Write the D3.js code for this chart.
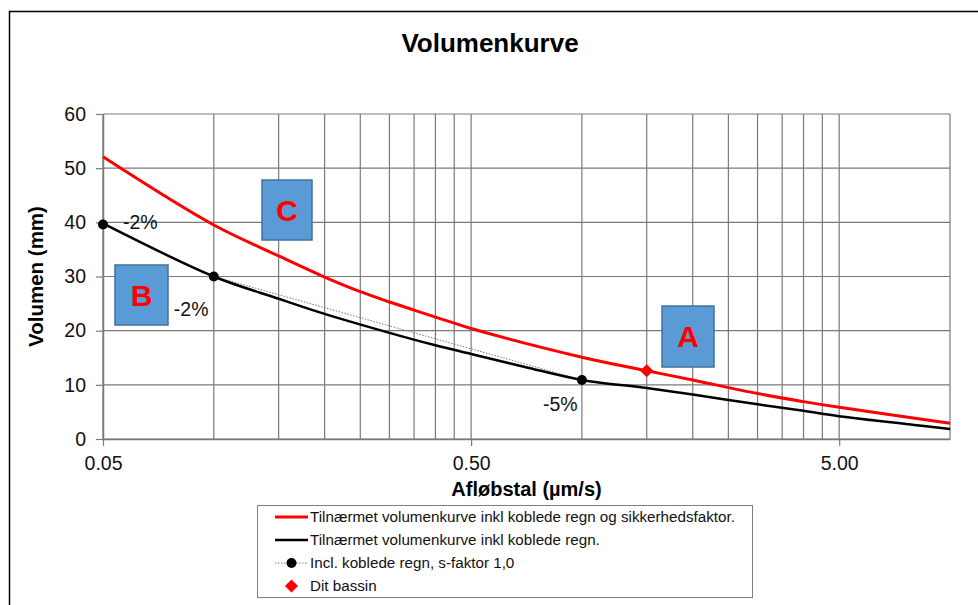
<!DOCTYPE html>
<html>
<head>
<meta charset="utf-8">
<script src="https://cdn.jsdelivr.net/npm/d3@7"></script>
<style>
  body { margin: 0; background: #fff; }
  svg { font-family: "Liberation Sans", Arial, sans-serif; }
</style>
</head>
<body>
<div id="chart"></div>
<script>
// curve data
const redX = [0.05, 0.1, 0.15, 0.2, 0.25, 0.3, 0.35, 0.4, 0.45, 0.5, 1, 1.5, 2, 3, 4, 5, 10]
const redY = [52.1, 39.5, 33.8, 29.9, 27.2, 25.3, 23.8, 22.5, 21.4, 20.4, 15.1, 12.6, 10.9, 8.4, 6.9, 5.85, 2.9]

const blackX = [0.05, 0.1, 0.15, 0.2, 0.3, 0.4, 0.5, 0.7, 1, 1.5, 2, 3, 4, 5, 8, 10]
const blackY = [39.8, 30.0, 25.9, 23.1, 19.6, 17.3, 15.7, 13.3, 10.9, 9.4, 8.2, 6.4, 5.2, 4.2, 2.6, 1.85]

const dotX = [0.05, 0.1, 1.0]
const dotY = [39.6, 30.0, 10.9]
const dotLabels = ['-2%', '-2%', '-5%']

const bassinX = [1.5]
const bassinY = [12.6]

const xTicks = [0.05, 0.5, 5]
const xGrid = [0.05, 0.1, 0.15, 0.2, 0.25, 0.3, 0.35, 0.4, 0.45, 0.5, 1, 1.5, 2, 2.5, 3, 3.5, 4, 4.5, 5, 10]
const yTicks = [0, 10, 20, 30, 40, 50, 60]

const legendLabels = [
    'Tilnærmet volumenkurve inkl koblede regn og sikkerhedsfaktor.',
    'Tilnærmet volumenkurve inkl koblede regn.',
    'Incl. koblede regn, s-faktor 1,0',
    'Dit bassin'
]
const boxLetters = ['C', 'B', 'A']

// layout
const [width, height] = [978, 605]
const plot = { left: 103, right: 950, top: 114, bottom: 439 }
const labelOffsets = [[20, -2], [-40, 33], [-39, 24]]
const boxes = [[262, 180, 50, 60], [115, 265, 53, 60], [662, 306, 52, 61]]
const gridColor = '#7a7a7a'

const svg = d3.select('#chart').append('svg')
    .attr('width', width)
    .attr('height', height)

// outer chart frame
svg.append('rect')
    .attr('x', 9.5).attr('y', 11.5)
    .attr('width', width + 20).attr('height', height + 20)
    .attr('fill', 'none')
    .attr('stroke', '#000')
    .attr('stroke-width', 1.5)

const x = d3.scaleLog().domain([0.05, 10]).range([plot.left, plot.right])
const y = d3.scaleLinear().domain([0, 60]).range([plot.bottom, plot.top])

// grid
svg.append('g')
    .selectAll('line.v')
    .data(xGrid)
    .join('line')
    .attr('x1', d => x(d)).attr('x2', d => x(d))
    .attr('y1', plot.top).attr('y2', plot.bottom)
    .attr('stroke', gridColor)
    .attr('stroke-width', 1.2)

svg.append('g')
    .selectAll('line.h')
    .data(yTicks)
    .join('line')
    .attr('x1', plot.left).attr('x2', plot.right)
    .attr('y1', d => y(d)).attr('y2', d => y(d))
    .attr('stroke', gridColor)
    .attr('stroke-width', 1.2)

// axes
const yAxis = svg.append('g')
    .attr('transform', `translate(${plot.left},0)`)
    .call(d3.axisLeft(y).tickValues(yTicks).tickSize(7).tickPadding(10).tickSizeOuter(0))
yAxis.select('.domain').attr('stroke', gridColor).attr('stroke-width', 1.5)
yAxis.selectAll('.tick line').attr('stroke', gridColor).attr('stroke-width', 1.2)
yAxis.selectAll('text')
    .attr('font-size', 19.5)
    .attr('font-family', '"Liberation Sans", Arial, sans-serif')
    .attr('fill', '#111')

const xAxis = svg.append('g')
    .attr('transform', `translate(0,${plot.bottom})`)
    .call(d3.axisBottom(x).tickValues(xTicks).tickFormat(d3.format('.2f')).tickSize(7).tickPadding(10).tickSizeOuter(0))
xAxis.select('.domain').attr('stroke', gridColor).attr('stroke-width', 1.5)
xAxis.selectAll('.tick line').attr('stroke', gridColor).attr('stroke-width', 1.2)
xAxis.selectAll('text')
    .attr('font-size', 19.5)
    .attr('font-family', '"Liberation Sans", Arial, sans-serif')
    .attr('fill', '#111')

// titles
svg.append('text')
    .attr('x', 490).attr('y', 52)
    .attr('text-anchor', 'middle')
    .attr('font-size', 26).attr('font-weight', 'bold')
    .text('Volumenkurve')

svg.append('text')
    .attr('x', (plot.left + plot.right) / 2).attr('y', 496)
    .attr('text-anchor', 'middle')
    .attr('font-size', 20).attr('font-weight', 'bold')
    .text('Afløbstal (µm/s)')

svg.append('text')
    .attr('transform', `translate(43,${(plot.top + plot.bottom) / 2}) rotate(-90)`)
    .attr('text-anchor', 'middle')
    .attr('font-size', 20.5).attr('font-weight', 'bold')
    .text('Volumen (mm)')

// series
const line = d3.line()
    .x(d => x(d[0]))
    .y(d => y(d[1]))
    .curve(d3.curveCatmullRom.alpha(0.5))

const dotLine = d3.line()
    .x(d => x(d[0]))
    .y(d => y(d[1]))

svg.append('path')
    .datum(dotX.map((d, i) => [d, dotY[i]]))
    .attr('d', dotLine)
    .attr('fill', 'none')
    .attr('stroke', '#777')
    .attr('stroke-width', 1)
    .attr('stroke-dasharray', '1.5,1.5')

svg.append('path')
    .datum(blackX.map((d, i) => [d, blackY[i]]))
    .attr('d', line)
    .attr('fill', 'none')
    .attr('stroke', '#000')
    .attr('stroke-width', 2.5)

svg.append('path')
    .datum(redX.map((d, i) => [d, redY[i]]))
    .attr('d', line)
    .attr('fill', 'none')
    .attr('stroke', '#ff0000')
    .attr('stroke-width', 3)

svg.selectAll('circle.dot')
    .data(dotX.map((d, i) => [d, dotY[i]]))
    .join('circle')
    .attr('cx', d => x(d[0]))
    .attr('cy', d => y(d[1]))
    .attr('r', 5)
    .attr('fill', '#000')

svg.selectAll('text.dotlabel')
    .data(dotX.map((d, i) => [d, dotY[i], dotLabels[i]]))
    .join('text')
    .attr('x', (d, i) => x(d[0]) + labelOffsets[i][0])
    .attr('y', (d, i) => y(d[1]) + labelOffsets[i][1])
    .attr('dy', '0.35em')
    .attr('font-size', 19.5)
    .attr('fill', '#111')
    .text(d => d[2])

const diamond = d3.symbol().type(d3.symbolDiamond2).size(110)
svg.selectAll('path.bassin')
    .data(bassinX.map((d, i) => [d, bassinY[i]]))
    .join('path')
    .attr('d', diamond)
    .attr('transform', d => `translate(${x(d[0])},${y(d[1])})`)
    .attr('fill', '#ff0000')

// blue annotation boxes
const boxG = svg.selectAll('g.box')
    .data(boxes)
    .join('g')
boxG.append('rect')
    .attr('x', d => d[0]).attr('y', d => d[1])
    .attr('width', d => d[2]).attr('height', d => d[3])
    .attr('fill', '#5b9bd5')
    .attr('stroke', '#41719c')
    .attr('stroke-width', 1.5)
boxG.append('text')
    .attr('x', d => d[0] + d[2] / 2)
    .attr('y', d => d[1] + d[3] / 2)
    .attr('dy', '0.36em')
    .attr('text-anchor', 'middle')
    .attr('font-size', 30).attr('font-weight', 'bold')
    .attr('fill', '#ff0000')
    .text((d, i) => boxLetters[i])

// legend
const legend = svg.append('g')
svg.append('rect')
    .attr('x', 257.5).attr('y', 505.5)
    .attr('width', 495).attr('height', 92)
    .attr('fill', 'none')
    .attr('stroke', '#808080')
    .attr('stroke-width', 1)

const rowY = i => 517 + i * 23
legendLabels.forEach((label, i) => {
    const cy = rowY(i)
    if (i < 2) {
        legend.append('line')
            .attr('x1', 275).attr('x2', 308)
            .attr('y1', cy).attr('y2', cy)
            .attr('stroke', i === 0 ? '#ff0000' : '#000')
            .attr('stroke-width', i === 0 ? 3 : 2.5)
    } else if (i === 2) {
        legend.append('line')
            .attr('x1', 275).attr('x2', 308)
            .attr('y1', cy).attr('y2', cy)
            .attr('stroke', '#777')
            .attr('stroke-dasharray', '1.5,1.5')
        legend.append('circle')
            .attr('cx', 291.5).attr('cy', cy).attr('r', 5)
            .attr('fill', '#000')
    } else {
        legend.append('path')
            .attr('d', diamond)
            .attr('transform', `translate(291.5,${cy})`)
            .attr('fill', '#ff0000')
    }
    legend.append('text')
        .attr('x', 310).attr('y', cy)
        .attr('dy', '0.35em')
        .attr('font-size', 15.2)
        .attr('fill', '#111')
        .text(label)
})
</script>
</body>
</html>
